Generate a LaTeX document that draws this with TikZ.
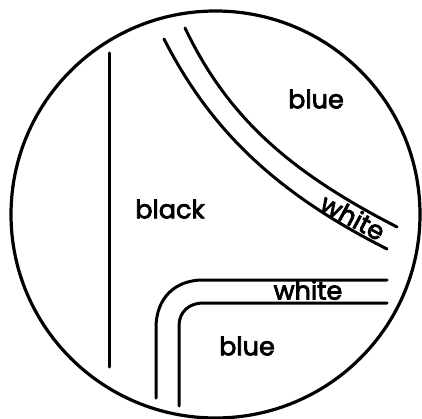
\documentclass[tikz,border=0pt]{standalone}
\usepackage{fontspec}
\setmainfont{Poppins}
\newfontfamily\regionfont[FakeBold=3]{Poppins}
\tikzset{
  wire/.style={line width=3pt,line cap=round},
  rim/.style={line width=3.2pt},
  region/.style={font=\regionfont\fontsize{25.5}{26}\selectfont,inner sep=0pt}
}

\begin{document}
\begin{tikzpicture}[x=1pt,y=-1pt]
    \useasboundingbox (0,0) rectangle (422,419);
    \draw[rim] (215.5,214.5) ellipse [x radius=204.5,y radius=203.5];
    \draw[wire] (109,53) -- (109,367);
    % curved strip
    \draw[wire] (185,28) .. controls (228,118) and (290,172) .. (397,227);
    \draw[wire] (164,39) .. controls (208,125) and (270,190) .. (387,249);
    % bent strip
    \draw[wire] (156,398) -- (156,328) .. controls (156,298) and (175,280) .. (203,280) -- (387,280);
    \draw[wire] (179,406) -- (179,326) .. controls (179,311) and (190,303) .. (203,303) -- (387,303);
    \node[region] (black) at (170,209) {black};
    \node[region] (blueUpper) at (316,99) {blue};
    \node[region] (blueLower) at (247,346) {blue};
    \node[region] (whiteLower) at (308,290) {white};
    \node[region,rotate=-28] (whiteUpper) at (353,217) {white};
\end{tikzpicture}
\end{document}
